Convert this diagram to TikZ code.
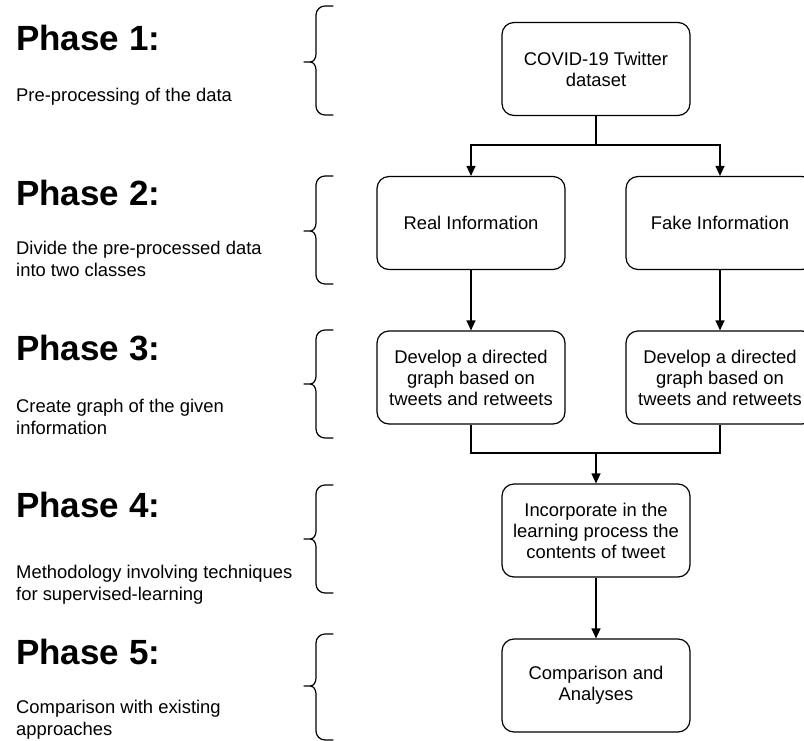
\documentclass[tikz,border=0pt]{standalone}
\usepackage{fontspec}
\setmainfont{Liberation Sans}
\usetikzlibrary{arrows.meta}

% curly bracket: top, tip and bottom heights
\newcommand{\phasebrace}[3]{%
  \draw[bracket] (333,#1) -- (325,#1) to[out=180,in=90] (316,#1+9) -- (316,#2-8)
    to[out=-90,in=0] (310,#2) -- (304,#2)
    (310,#2) to[out=0,in=90] (316,#2+8) -- (316,#3-9)
    to[out=-90,in=180] (325,#3) -- (333,#3);}

\begin{document}
\begin{tikzpicture}[x=1pt,y=-1pt,
  stepbox/.style={draw, line width=1.2pt, rounded corners=12pt,
    minimum width=188pt, minimum height=93pt, align=center, inner sep=2pt,
    font=\fontsize{18.4}{21}\selectfont},
  flow/.style={line width=1.2pt, -{Triangle[width=9pt,length=10pt]}},
  link/.style={line width=1.2pt},
  heading/.style={anchor=base west, inner sep=0pt,
    font=\fontsize{35}{40}\selectfont\bfseries},
  note/.style={anchor=base west, inner sep=0pt, align=left,
    font=\fontsize{18.4}{22}\selectfont},
  bracket/.style={line width=1.2pt, line cap=round}]

\useasboundingbox (0,0) rectangle (804,740);

% phase labels (notes are placed by the baseline of their last line)
\node[heading] (h1) at (16,50) {Phase 1:};
\node[note] (t1) at (16,101) {Pre-processing of the data};
\node[heading] (h2) at (16,205) {Phase 2:};
\node[note] (t2) at (16,276) {Divide the pre-processed data\\into two classes};
\node[heading] (h3) at (16,360) {Phase 3:};
\node[note] (t3) at (16,434) {Create graph of the given\\information};
\node[heading] (h4) at (16,517) {Phase 4:};
\node[note] (t4) at (16,600) {Methodology involving techniques\\for supervised-learning};
\node[heading] (h5) at (16,664) {Phase 5:};
\node[note] (t5) at (16,735) {Comparison with existing\\approaches};

% brackets
\phasebrace{6}{62}{115}
\phasebrace{176}{231}{284}
\phasebrace{330}{384}{438}
\phasebrace{485}{539}{593}
\phasebrace{634}{686}{740}

% flow boxes
\node[stepbox] (data) at (596,69) {COVID-19 Twitter\\dataset};
\node[stepbox] (real) at (471,223) {Real Information};
\node[stepbox] (fake) at (720,223) {Fake Information};
\node[stepbox] (greal) at (471,377.5) {Develop a directed\\graph based on\\tweets and retweets};
\node[stepbox] (gfake) at (720,377.5) {Develop a directed\\graph based on\\tweets and retweets};
\node[stepbox] (learn) at (596,530.5) {Incorporate in the\\learning process the\\contents of tweet};
\node[stepbox] (cmp) at (596,685.5) {Comparison and\\Analyses};

% connectors
\coordinate (split) at (596,145);
\coordinate (join) at (596,453);
\draw[link] (data.south) -- (split);
\draw[flow] (split) -| (real.north);
\draw[flow] (split) -| (fake.north);
\draw[flow] (real.south) -- (greal.north);
\draw[flow] (fake.south) -- (gfake.north);
\draw[link] (greal.south) |- (join);
\draw[link] (gfake.south) |- (join);
\draw[flow] (join) -- (learn.north);
\draw[flow] (learn.south) -- (cmp.north);
\end{tikzpicture}
\end{document}
